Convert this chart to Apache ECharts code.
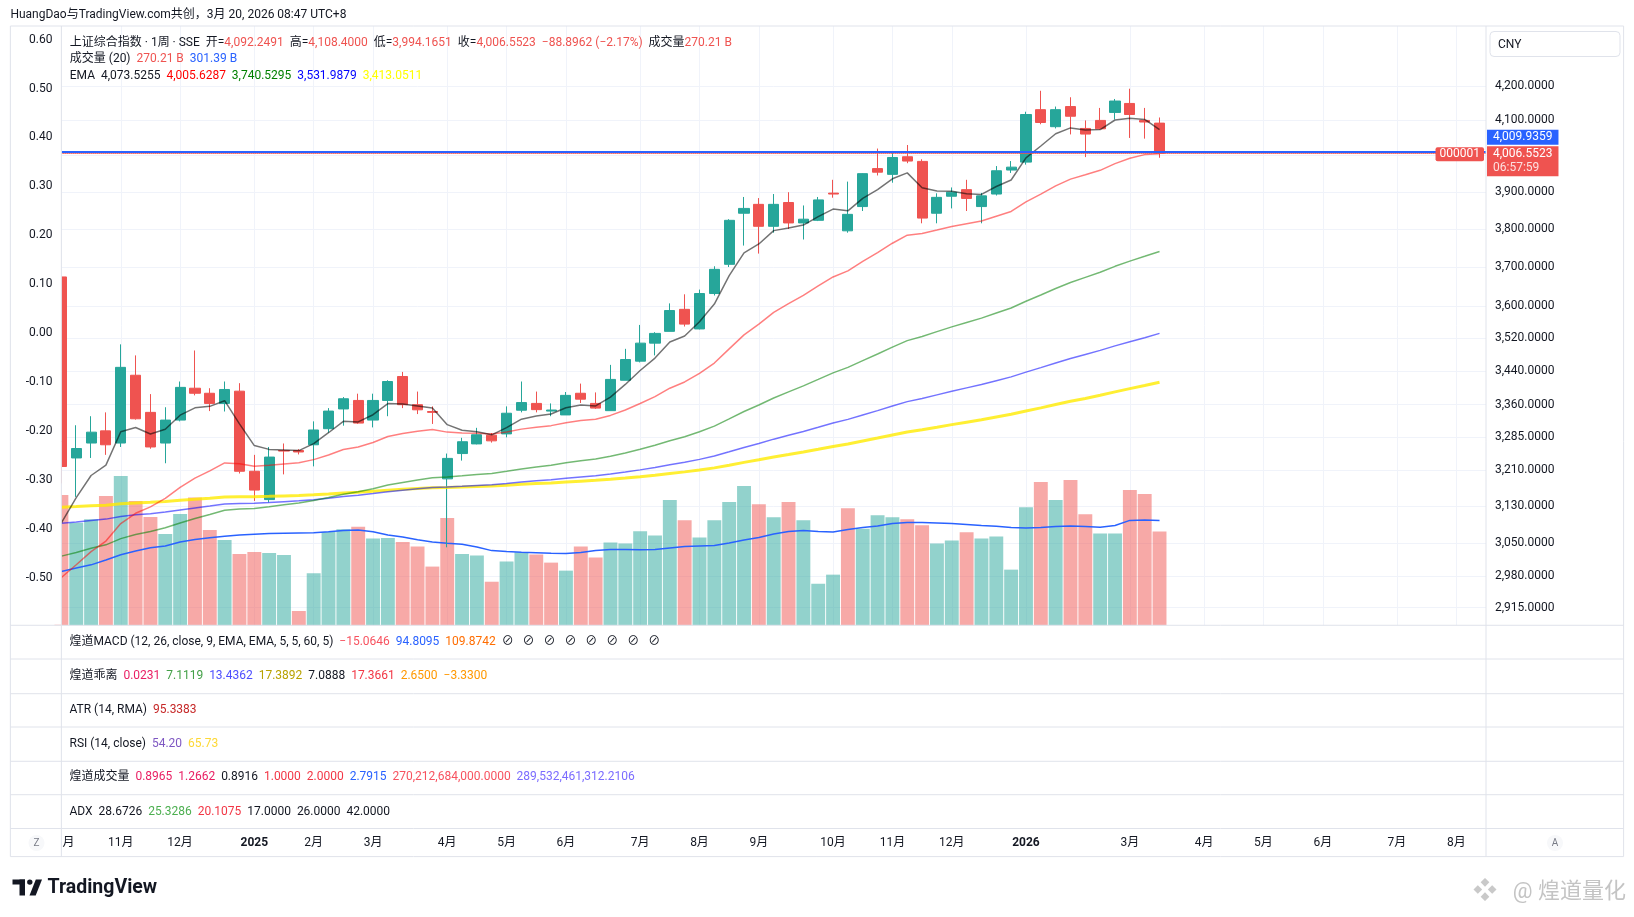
<!DOCTYPE html>
<html>
<head>
<meta charset="utf-8">
<title>上证综合指数 · 1周</title>
<script src="https://cdn.jsdelivr.net/npm/echarts@6/dist/echarts.min.js"></script>
<style>
  html, body { margin: 0; padding: 0; background: #fff; }
  #chart { width: 1634px; height: 917px; }
</style>
</head>
<body>
<div id="chart"></div>
<script>
// 上证综合指数 周线, 2024-10 ~ 2026-03

var FONT = 'Roboto, "Noto Sans CJK SC", "DejaVu Sans", sans-serif';
var TXT = '#131722', BORDER = '#e0e3eb', GRIDC = '#f0f3fa';
var UP = '#26a69a', DOWN = '#ef5350';

// 周K日期
var dates = ['2024-10-07','2024-10-14','2024-10-21','2024-10-28','2024-11-04','2024-11-11','2024-11-18','2024-11-25','2024-12-02','2024-12-09',
  '2024-12-16','2024-12-23','2024-12-30','2025-01-06','2025-01-13','2025-01-20','2025-01-27','2025-02-03','2025-02-10','2025-02-17',
  '2025-02-24','2025-03-03','2025-03-10','2025-03-17','2025-03-24','2025-03-31','2025-04-07','2025-04-14','2025-04-21','2025-04-28',
  '2025-05-05','2025-05-12','2025-05-19','2025-05-26','2025-06-02','2025-06-09','2025-06-16','2025-06-23','2025-06-30','2025-07-07',
  '2025-07-14','2025-07-21','2025-07-28','2025-08-04','2025-08-11','2025-08-18','2025-08-25','2025-09-01','2025-09-08','2025-09-15',
  '2025-09-22','2025-09-29','2025-10-06','2025-10-13','2025-10-20','2025-10-27','2025-11-03','2025-11-10','2025-11-17','2025-11-24',
  '2025-12-01','2025-12-08','2025-12-15','2025-12-22','2025-12-29','2026-01-05','2026-01-12','2026-01-19','2026-01-26','2026-02-02',
  '2026-02-09','2026-02-23','2026-03-02','2026-03-09','2026-03-16'];
var futureWeeks = 22; // 右侧空白

var opens = [3674.4, 3237, 3271, 3299, 3271, 3430, 3342, 3271, 3324, 3399,
  3387, 3363, 3392, 3207, 3144, 3254, 3254, 3267, 3304, 3350,
  3370, 3324, 3370, 3427, 3360, 3344, 3190, 3247, 3269, 3289,
  3292, 3347, 3363, 3345, 3336, 3387, 3363, 3346, 3418, 3464,
  3508, 3537, 3592, 3543, 3632, 3707, 3842, 3866, 3807, 3871,
  3816, 3823, 3896.5, 3795, 3860, 3964, 3948, 3997, 3984, 3842,
  3888, 3906, 3860, 3894, 3960, 3982, 4131, 4082, 4140, 4077,
  4100, 4123, 4149, 4100, 4092.2491];
var highs = [3674.4, 3312, 3333, 3342, 3505, 3478, 3385, 3354, 3415, 3490,
  3399, 3415, 3411, 3244, 3262, 3270, 3257, 3321, 3352, 3378,
  3386, 3386, 3418, 3438, 3391, 3356, 3247, 3283, 3306, 3294,
  3356, 3415, 3391, 3363, 3390, 3410, 3389, 3455, 3494, 3553,
  3535, 3607, 3630, 3642, 3702, 3826, 3886, 3883, 3894, 3899,
  3863, 3886, 3933, 3928, 3951, 4020, 4010, 4030, 3990, 3896,
  3912, 3933, 3897, 3971, 3985, 4125, 4186, 4140, 4167, 4100,
  4136, 4162, 4192, 4136, 4108.4];
var lows = [3180, 3150, 3237, 3244, 3262, 3325, 3258, 3225, 3321, 3382,
  3345, 3344, 3202, 3141, 3138, 3200, 3245, 3218, 3295, 3311,
  3315, 3307, 3333, 3352, 3338, 3315, 3040.7, 3231, 3268, 3272,
  3284, 3342, 3342, 3333, 3336, 3364, 3350, 3346, 3418, 3461,
  3478, 3537, 3549, 3542, 3627, 3700, 3756, 3735, 3790, 3800,
  3772, 3821, 3884, 3790, 3848, 3945, 3925, 3979, 3815, 3815,
  3855, 3848, 3815, 3890, 3952, 3975, 4089, 4077, 4060, 3996,
  4074, 4103, 4050, 4048, 3994.1651];
var closes = [3217.7, 3258.5, 3296, 3267, 3449, 3327, 3262, 3324, 3401, 3387,
  3363, 3396, 3207, 3165, 3239, 3252.6, 3250.6, 3301, 3345, 3374,
  3317, 3370, 3415, 3360, 3348, 3342, 3236, 3274, 3290, 3276,
  3340, 3365, 3348.4, 3347.5, 3382, 3373, 3352, 3420, 3468, 3508,
  3532, 3589, 3555, 3632, 3694, 3823, 3855, 3807, 3866, 3816,
  3826, 3878, 3894, 3839, 3950, 3954, 3995, 3985, 3829, 3885,
  3899, 3882, 3889, 3958, 3968, 4117, 4094, 4131, 4112, 4061,
  4076, 4156, 4117, 4095.4, 4006.5523];

// 成交量 (B)
var volumes = [375.4, 295, 305.4, 372.5, 430, 358, 312, 263, 320.7, 367.7,
  274.6, 245.8, 205.4, 211.2, 208.3, 202.5, 41.2, 149.8, 268.8, 276.6,
  284, 249.5, 251.5, 240, 226.5, 169, 309, 205, 200.8, 125.4,
  183.5, 210.5, 203.7, 180.4, 157.3, 227, 195, 238.5, 235.6, 270.5,
  258.7, 360.4, 302.2, 253, 302.2, 354.6, 401, 348.6, 311, 354.6,
  302.2, 119.6, 145.8, 337, 278, 316.9, 311, 305, 287.8, 235.6,
  244.3, 267.6, 250, 255.8, 160.2, 340, 412.6, 360.4, 418.3, 319.8,
  264.5, 264.5, 389.2, 377.7, 270.21];
var volMA20 = [155, 165, 174, 188, 203, 214, 223, 228, 240, 247,
  252, 256, 260, 262, 264, 265, 266, 266.5, 269, 273,
  274.5, 269, 260, 254, 246, 240, 236, 233, 225.6, 215,
  212.6, 210.6, 209, 207.4, 206.6, 209.7, 215.5, 218, 218, 217.5,
  218, 222.7, 227, 228.5, 230, 237, 245.7, 253, 263, 270,
  273, 270, 268.8, 276, 281.8, 286, 293, 296, 295.6, 294.7,
  292.7, 290.4, 287.5, 285, 281.8, 280.3, 281.8, 284.6, 286, 284.6,
  282.3, 287.5, 302, 303.4, 301.39];

// EMA 线
var ema5 = [3093, 3148.2, 3197.5, 3220.7, 3296.8, 3306.9, 3291.9, 3302.6, 3335.4, 3352.6,
  3356.1, 3369.4, 3315.3, 3265.2, 3256.5, 3255.2, 3253.7, 3269.5, 3294.7, 3321.1,
  3319.7, 3336.5, 3362.7, 3361.8, 3357.2, 3352.1, 3313.4, 3300.3, 3296.9, 3289.9,
  3306.6, 3326.1, 3333.5, 3338.2, 3352.8, 3359.5, 3357.0, 3378.0, 3408.0, 3441.3,
  3471.5, 3510.7, 3525.5, 3561.0, 3605.3, 3677.9, 3736.9, 3760.3, 3795.5, 3802.3,
  3810.2, 3832.8, 3853.2, 3848.5, 3882.3, 3906.2, 3935.8, 3952.2, 3911.1, 3902.4,
  3901.3, 3894.9, 3892.9, 3914.6, 3932.4, 3993.9, 4027.3, 4061.9, 4078.6, 4072.7,
  4073.8, 4101.2, 4106.5, 4102.8, 4073.5];
var ema20 = [2977, 3003.8, 3031.6, 3054.0, 3091.6, 3114.0, 3128.1, 3146.8, 3171.0, 3191.6,
  3207.9, 3225.8, 3224.0, 3218.4, 3220.4, 3223.5, 3226.1, 3233.2, 3243.8, 3256.2,
  3262.0, 3272.3, 3285.9, 3293.0, 3298.2, 3302.4, 3296.1, 3294.0, 3293.6, 3291.9,
  3296.5, 3303.0, 3307.3, 3311.1, 3317.9, 3323.1, 3325.9, 3334.9, 3347.6, 3362.9,
  3379.0, 3399.0, 3413.9, 3434.7, 3459.4, 3494.0, 3528.4, 3554.9, 3584.5, 3606.5,
  3627.4, 3651.3, 3674.4, 3690.1, 3714.9, 3737.7, 3762.2, 3783.4, 3787.7, 3797.0,
  3806.7, 3813.9, 3821.1, 3834.1, 3846.9, 3872.6, 3893.7, 3916.3, 3934.9, 3946.9,
  3959.2, 3977.9, 3993.0, 4003.0, 4005.6];
var ema60 = [3022, 3029.8, 3038.5, 3046.0, 3059.2, 3068.0, 3074.4, 3082.6, 3093.0, 3102.6,
  3111.2, 3120.5, 3123.3, 3124.7, 3128.5, 3132.5, 3136.4, 3141.8, 3148.5, 3155.9,
  3161.2, 3168.0, 3176.1, 3182.1, 3187.6, 3192.6, 3194.1, 3196.7, 3199.7, 3202.2,
  3206.8, 3211.9, 3216.4, 3220.7, 3226.0, 3230.8, 3234.8, 3240.8, 3248.3, 3256.8,
  3265.8, 3276.4, 3285.5, 3296.9, 3309.9, 3326.7, 3344.1, 3359.2, 3375.9, 3390.3,
  3404.6, 3420.1, 3435.7, 3448.9, 3465.3, 3481.3, 3498.2, 3514.1, 3524.5, 3536.3,
  3548.2, 3559.1, 3569.9, 3582.7, 3595.3, 3612.4, 3628.2, 3644.7, 3660.0, 3673.2,
  3686.4, 3701.8, 3715.4, 3727.8, 3740.5];
var ema120 = [3092.5, 3095.2, 3098.5, 3101.3, 3107.1, 3110.7, 3113.2, 3116.7, 3121.4, 3125.8,
  3129.7, 3134.1, 3135.3, 3135.8, 3137.5, 3139.4, 3141.2, 3143.9, 3147.2, 3150.9,
  3153.7, 3157.3, 3161.5, 3164.8, 3167.8, 3170.7, 3171.8, 3173.5, 3175.4, 3177.1,
  3179.8, 3182.8, 3185.6, 3188.2, 3191.4, 3194.4, 3197.0, 3200.7, 3205.1, 3210.1,
  3215.4, 3221.6, 3227.1, 3233.8, 3241.4, 3251.0, 3261.0, 3270.0, 3279.9, 3288.8,
  3297.7, 3307.3, 3317.0, 3325.6, 3335.9, 3346.1, 3356.8, 3367.2, 3374.8, 3383.2,
  3391.7, 3399.8, 3407.9, 3417.0, 3426.1, 3437.5, 3448.4, 3459.7, 3470.5, 3480.3,
  3490.2, 3501.2, 3511.4, 3521.1, 3532.0];
var ema200 = [3127.3, 3128.6, 3130.3, 3131.6, 3134.8, 3136.7, 3138.0, 3139.8, 3142.4, 3144.8,
  3147.0, 3149.5, 3150.1, 3150.2, 3151.1, 3152.1, 3153.1, 3154.6, 3156.5, 3158.6,
  3160.2, 3162.3, 3164.8, 3166.7, 3168.5, 3170.3, 3170.9, 3171.9, 3173.1, 3174.1,
  3175.8, 3177.7, 3179.4, 3181.0, 3183.0, 3184.9, 3186.6, 3188.9, 3191.7, 3194.8,
  3198.2, 3202.1, 3205.6, 3209.8, 3214.6, 3220.7, 3227.0, 3232.8, 3239.1, 3244.8,
  3250.6, 3256.8, 3263.2, 3268.9, 3275.7, 3282.4, 3289.5, 3296.4, 3301.7, 3307.5,
  3313.4, 3319.1, 3324.8, 3331.1, 3337.4, 3345.2, 3352.6, 3360.4, 3367.9, 3374.8,
  3382.2, 3390.3, 3398.0, 3405.4, 3413.1];

// 时间轴标签 [类目序号, 文本]
var monthTicks = [[0, '10月'], [4, '11月'], [8, '12月'], [13, '2025'], [17, '2月'], [21, '3月'], [26, '4月'],
  [30, '5月'], [34, '6月'], [39, '7月'], [43, '8月'], [47, '9月'], [52, '10月'], [56, '11月'], [60, '12月'],
  [65, '2026'], [72, '3月'], [77, '4月'], [81, '5月'], [85, '6月'], [90, '7月'], [94, '8月']];
// 右侧价格刻度
var priceTicks = [2915, 2980, 3050, 3130, 3210, 3285, 3360, 3440, 3520, 3600, 3700, 3800, 3900, 4100, 4200];
var priceGridOnly = [4000];
var lastPrice = 4006.5523, drawnLine = 4009.9359;

var cats = dates.slice();
for (var k = 1; k <= futureWeeks; k++) cats.push('f' + k);
var tickMap = {};
monthTicks.forEach(function (t) { tickMap[t[0]] = t[1]; });

function fmt4(v) {
  return v.toLocaleString('en-US', { minimumFractionDigits: 4, maximumFractionDigits: 4 });
}

var candleData = opens.map(function (o, i) { return [o, closes[i], lows[i], highs[i]]; });
var volData = volumes.map(function (v, i) {
  var up = i === 0 ? closes[0] >= opens[0] : closes[i] >= closes[i - 1];
  return { value: v, itemStyle: { color: up ? 'rgba(38,166,154,0.5)' : 'rgba(239,83,80,0.5)' } };
});

function emaSeries(name, data, color, width) {
  return {
    name: name, type: 'line', xAxisIndex: 0, yAxisIndex: 0, data: data,
    symbol: 'none', silent: true, z: 4,
    lineStyle: { color: color, width: width }
  };
}

// 图例富文本
function richLine(parts, size) {
  var rich = {}, text = '';
  parts.forEach(function (p, i) {
    var key = 'p' + i;
    rich[key] = { fill: p[1], color: p[1], fontSize: size, fontFamily: FONT };
    text += '{' + key + '|' + p[0] + '}';
  });
  return { text: text, rich: rich };
}
function legendText(x, y, parts, size) {
  var r = richLine(parts, size);
  return {
    type: 'text', x: x, y: y, z: 100, silent: true,
    style: { text: r.text, rich: r.rich, fill: TXT, fontSize: size, fontFamily: FONT, verticalAlign: 'middle', align: 'left' }
  };
}
function hline(y, x1, x2) {
  return { type: 'line', z: 90, silent: true, shape: { x1: x1, y1: y, x2: x2, y2: y }, style: { stroke: BORDER, lineWidth: 1 } };
}
function vline(x, y1, y2) {
  return { type: 'line', z: 90, silent: true, shape: { x1: x, y1: y1, x2: x, y2: y2 }, style: { stroke: BORDER, lineWidth: 1 } };
}

var LEFT = 61.4, TOP = 26, RIGHT = 1486, BOTTOM = 625.3;
var FR_L = 10.4, FR_R = 1623.6, FR_B = 856.6;
var paneSeps = [659, 693.7, 727, 761.3, 794.7, 828.5];
var LG = 12; // 图例字号

var graphics = [
  // 左侧溢出遮挡 (首根K线被价格区左缘裁切)
  { type: 'rect', z: 80, silent: true, shape: { x: 53, y: TOP + 0.5, width: LEFT - 53, height: BOTTOM - TOP - 1 }, style: { fill: '#fff' } },
  { type: 'text', x: 10.4, y: 14.5, z: 100, style: { text: 'HuangDao与TradingView.com共创，3月 20, 2026 08:47 UTC+8', fill: TXT, fontSize: 12, fontFamily: FONT, verticalAlign: 'middle' } },
  { type: 'rect', z: 90, silent: true, shape: { x: FR_L, y: TOP, width: FR_R - FR_L, height: FR_B - TOP }, style: { fill: 'none', stroke: BORDER, lineWidth: 1 } },
  vline(LEFT, TOP, FR_B),
  vline(RIGHT, TOP, FR_B),
  hline(BOTTOM, FR_L, FR_R),
  // 币种
  { type: 'rect', z: 95, shape: { x: 1490, y: 31.5, width: 130, height: 25, r: 4 }, style: { fill: '#fff', stroke: BORDER, lineWidth: 1 } },
  { type: 'text', x: 1498, y: 44.5, z: 100, style: { text: 'CNY', fill: TXT, fontSize: 12, fontFamily: FONT, verticalAlign: 'middle' } },
  // 主图图例
  legendText(69.8, 42.5, [['上证综合指数 · 1周 · SSE  ', TXT], ['开=', TXT], ['4,092.2491  ', DOWN], ['高=', TXT], ['4,108.4000  ', DOWN],
    ['低=', TXT], ['3,994.1651  ', DOWN], ['收=', TXT], ['4,006.5523  ', DOWN], ['−88.8962 (−2.17%)  ', DOWN], ['成交量', TXT], ['270.21 B', DOWN]], LG),
  legendText(69.8, 59.2, [['成交量 (20)  ', TXT], ['270.21 B  ', DOWN], ['301.39 B', '#2962ff']], LG),
  legendText(69.8, 75.8, [['EMA  ', TXT], ['4,073.5255  ', TXT], ['4,005.6287  ', '#ff0000'], ['3,740.5295  ', '#008000'],
    ['3,531.9879  ', '#0000ff'], ['3,413.0511', '#ffff00']], LG),
  // 副图图例
  legendText(69.5, 642.3, [['煌道MACD (12, 26, close, 9, EMA, EMA, 5, 5, 60, 5)  ', TXT], ['−15.0646  ', '#f7525f'], ['94.8095  ', '#2962ff'],
    ['109.8742  ', '#ff6d00'], ['⊘   ⊘   ⊘   ⊘   ⊘   ⊘   ⊘   ⊘', TXT]], LG),
  legendText(69.5, 675.7, [['煌道乖离  ', TXT], ['0.0231  ', '#e91e63'], ['7.1119  ', '#43a047'], ['13.4362  ', '#4d4dff'], ['17.3892  ', '#b8a200'],
    ['7.0888  ', TXT], ['17.3661  ', '#f23645'], ['2.6500  ', '#ff9800'], ['−3.3300', '#ff9800']], LG),
  legendText(69.5, 710, [['ATR (14, RMA)  ', TXT], ['95.3383', '#c62828']], LG),
  legendText(69.5, 744, [['RSI (14, close)  ', TXT], ['54.20  ', '#7e57c2'], ['65.73', '#fdd835']], LG),
  legendText(69.5, 777.3, [['煌道成交量  ', TXT], ['0.8965  ', '#e91e63'], ['1.2662  ', '#e91e63'], ['0.8916  ', TXT], ['1.0000  ', '#f23645'],
    ['2.0000  ', '#f23645'], ['2.7915  ', '#2962ff'], ['270,212,684,000.0000  ', '#f7525f'], ['289,532,461,312.2106', '#7b6cff']], LG),
  legendText(69.5, 811.7, [['ADX  ', TXT], ['28.6726  ', TXT], ['25.3286  ', '#4caf50'], ['20.1075  ', '#f23645'], ['17.0000  ', TXT],
    ['26.0000  ', TXT], ['42.0000', TXT]], LG),
  // 时间轴两端按钮
  { type: 'circle', z: 95, shape: { cx: 36.5, cy: 843, r: 8 }, style: { fill: '#f7f8fa', stroke: 'none' } },
  { type: 'text', x: 36.5, y: 843, z: 100, style: { text: 'Z', fill: '#787b86', fontSize: 10, fontFamily: FONT, align: 'center', verticalAlign: 'middle' } },
  { type: 'circle', z: 95, shape: { cx: 1555, cy: 843, r: 8 }, style: { fill: '#f7f8fa', stroke: 'none' } },
  { type: 'text', x: 1555, y: 843, z: 100, style: { text: 'A', fill: '#787b86', fontSize: 10, fontFamily: FONT, align: 'center', verticalAlign: 'middle' } },
  // TradingView 标志
  { type: 'rect', z: 100, shape: { x: 12.5, y: 879.5, width: 12.5, height: 5 }, style: { fill: TXT } },
  { type: 'rect', z: 100, shape: { x: 19.5, y: 879.5, width: 5.5, height: 16 }, style: { fill: TXT } },
  { type: 'circle', z: 100, shape: { cx: 29.8, cy: 882.1, r: 2.7 }, style: { fill: TXT } },
  { type: 'polygon', z: 100, shape: { points: [[29.5, 895.5], [35.8, 879.5], [42, 879.5], [35.7, 895.5]] }, style: { fill: TXT } },
  { type: 'text', x: 47.5, y: 888, z: 100, style: { text: 'TradingView', fill: TXT, fontSize: 19.5, fontWeight: 'bold', fontFamily: FONT, verticalAlign: 'middle' } },
  // 水印
  { type: 'text', x: 1485, y: 892, z: 100, style: { text: '❖', fill: '#c9c9c9', fontSize: 24, fontFamily: FONT, align: 'center', verticalAlign: 'middle' } },
  { type: 'text', x: 1626, y: 892, z: 100, style: { text: '@ 煌道量化', fill: '#c4c4c4', fontSize: 22, fontFamily: FONT, align: 'right', verticalAlign: 'middle' } }
];
paneSeps.forEach(function (y) { graphics.push(hline(y, FR_L, FR_R)); });

var chart = echarts.init(document.getElementById('chart'), null, { renderer: 'canvas' });
var option = {
  backgroundColor: '#ffffff',
  animation: false,
  textStyle: { fontFamily: FONT },
  grid: [
    { left: LEFT, top: TOP, width: RIGHT - LEFT, height: BOTTOM - TOP, containLabel: false },
    // 左侧空白叠加指标的刻度
    { left: LEFT, top: TOP, width: RIGHT - LEFT, height: BOTTOM + 2 - TOP, containLabel: false }
  ],
  xAxis: [{
    type: 'category', gridIndex: 0, data: cats, boundaryGap: false,
    axisLine: { show: false }, axisTick: { show: false },
    splitLine: { show: true, interval: function (i) { return tickMap[i] !== undefined; }, lineStyle: { color: GRIDC, width: 1 } },
    axisLabel: {
      interval: function (i) { return tickMap[i] !== undefined; },
      margin: 212, color: TXT, fontSize: 12, fontFamily: FONT,
      formatter: function (v, i) {
        var t = tickMap[i];
        if (i === 0) return '{cut|' + t.slice(-1) + '}';
        if (/^\d{4}$/.test(t)) return '{yr|' + t + '}';
        return t;
      },
      rich: {
        cut: { color: TXT, fontSize: 12, fontFamily: FONT, padding: [0, 0, 0, 14] },
        yr: { color: TXT, fontSize: 12, fontFamily: FONT, fontWeight: 'bold' }
      }
    }
  }, {
    type: 'category', gridIndex: 1, data: cats, boundaryGap: false, show: false
  }],
  yAxis: [
    { type: 'log', gridIndex: 0, logBase: 10, min: 2879.1, max: 4380.2, position: 'right',
      axisLine: { show: false }, axisTick: { show: false }, axisLabel: { show: false }, splitLine: { show: false } },
    { type: 'value', gridIndex: 1, position: 'left', min: -0.6, max: 0.6276, interval: 0.1,
      axisLine: { show: false }, axisTick: { show: false }, splitLine: { show: false },
      axisLabel: { color: TXT, fontSize: 12, fontFamily: FONT, margin: 9, showMinLabel: false, showMaxLabel: false,
        formatter: function (v) { return Math.abs(v) < 1e-9 ? '0.00' : v.toFixed(2); } } },
    { type: 'value', gridIndex: 0, min: 0, max: 1725, show: false }
  ],
  graphic: graphics,
  series: [
    {
      name: 'grid', type: 'line', xAxisIndex: 0, yAxisIndex: 0, data: [], z: 0, silent: true,
      markLine: {
        silent: true, z: 0.5, symbol: ['none', 'none'], animation: false,
        lineStyle: { color: GRIDC, width: 1, type: 'solid' },
        label: { position: 'end', distance: 9, color: TXT, fontSize: 12, fontFamily: FONT, formatter: function (p) { return fmt4(p.value); } },
        emphasis: { disabled: true },
        data: priceTicks.map(function (v) { return { yAxis: v }; })
          .concat(priceGridOnly.map(function (v) { return { yAxis: v, label: { show: false } }; }))
      }
    },
    {
      name: '成交量', type: 'bar', xAxisIndex: 0, yAxisIndex: 2, data: volData,
      barWidth: 13.9, z: 1, silent: true
    },
    {
      name: '成交量MA', type: 'line', xAxisIndex: 0, yAxisIndex: 2, data: volMA20,
      symbol: 'none', silent: true, z: 2, lineStyle: { color: '#2962ff', width: 1.5 }
    },
    {
      name: '上证综合指数', type: 'candlestick', xAxisIndex: 0, yAxisIndex: 0, data: candleData,
      barWidth: 10.6, z: 3, silent: true, clip: true,
      itemStyle: { color: UP, color0: DOWN, borderColor: UP, borderColor0: DOWN, borderWidth: 1 },
      markLine: {
        silent: true, z: 10, symbol: ['none', 'none'], animation: false,
        emphasis: { disabled: true },
        data: [
          { yAxis: drawnLine, lineStyle: { color: '#2962ff', width: 2, type: 'solid' },
            label: { position: 'end', distance: 1, offset: [0, -15], formatter: fmt4(drawnLine), color: '#fff',
              backgroundColor: '#2962ff', padding: [2, 6, 1, 6], fontSize: 12, fontFamily: FONT } },
          { yAxis: lastPrice, lineStyle: { color: DOWN, width: 1, type: 'dotted' },
            label: { position: 'end', distance: 1, offset: [0, 8], formatter: '{a|' + fmt4(lastPrice) + '}\n{b|06:57:59}',
              backgroundColor: DOWN, padding: [1, 6, 1, 6], fontSize: 12, fontFamily: FONT, color: '#fff',
              rich: { a: { color: '#fff', fontSize: 12, lineHeight: 14, fontFamily: FONT },
                      b: { color: 'rgba(255,255,255,0.82)', fontSize: 12, lineHeight: 14, fontFamily: FONT } } } },
          { yAxis: lastPrice, lineStyle: { color: DOWN, width: 1, type: 'dotted' },
            label: { position: 'insideEndTop', distance: 2, offset: [0, 10], formatter: '000001', color: '#fff',
              backgroundColor: DOWN, padding: [1, 4, 1, 4], fontSize: 12, fontFamily: FONT, borderRadius: 2 } }
        ]
      }
    },
    emaSeries('EMA200', ema200, 'rgba(255,235,0,0.8)', 3),
    emaSeries('EMA120', ema120, 'rgba(0,0,255,0.55)', 1.5),
    emaSeries('EMA60', ema60, 'rgba(0,128,0,0.55)', 1.5),
    emaSeries('EMA20', ema20, 'rgba(255,0,0,0.5)', 1.5),
    emaSeries('EMA5', ema5, 'rgba(0,0,0,0.55)', 1.5)
  ]
};
chart.setOption(option);
</script>
</body>
</html>
